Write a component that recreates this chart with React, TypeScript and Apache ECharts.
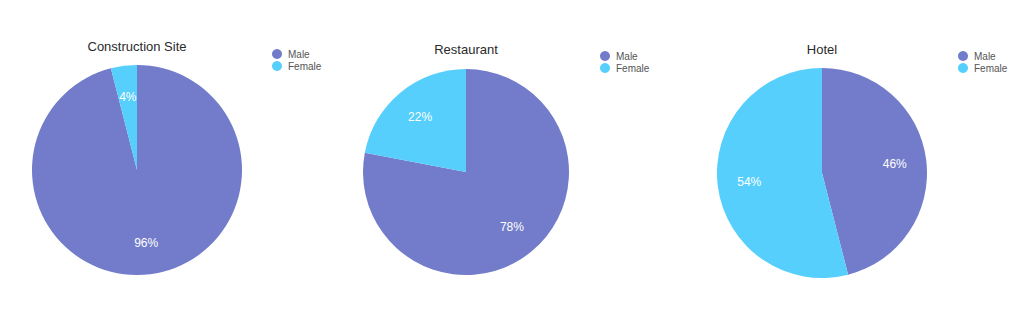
import React, { useEffect, useRef } from "react";
import * as echarts from "echarts";

// Gender split per workplace, in percent
const workplaces = ["Construction Site", "Restaurant", "Hotel"];
const genders = ["Male", "Female"];
const maleShare = [96, 78, 46];
const femaleShare = [4, 22, 54];

const MALE_COLOR = "#727CCA";
const FEMALE_COLOR = "#56CFFD";
const FONT = "'Helvetica Neue', Helvetica, Arial, 'Liberation Sans', sans-serif";

// Layout for each pie panel: centre, radius, title and legend placement
const panels = [
  { cx: 137, cy: 170, r: 105, titleTop: 40, legendLeft: 272, legendTop: 49 },
  { cx: 466, cy: 172, r: 103, titleTop: 43, legendLeft: 600, legendTop: 51 },
  { cx: 822, cy: 173, r: 105, titleTop: 43, legendLeft: 958, legendTop: 51 },
];

export default function App() {
  const ref = useRef<HTMLDivElement>(null);

  useEffect(() => {
    if (!ref.current) return;
    const chart = echarts.init(ref.current, undefined, { renderer: "svg" });

    const dataFor = (i: number) => [
      { name: genders[0], value: maleShare[i] },
      { name: genders[1], value: femaleShare[i] },
    ];

    // Visible pies (no labels)
    const pies = panels.map((p, i) => ({
      type: "pie",
      name: workplaces[i],
      center: [p.cx, p.cy],
      radius: [0, p.r],
      startAngle: 90,
      clockwise: true,
      silent: true,
      avoidLabelOverlap: false,
      label: { show: false },
      labelLine: { show: false },
      itemStyle: { borderWidth: 0 },
      color: [MALE_COLOR, FEMALE_COLOR],
      data: dataFor(i),
    }));

    // Transparent overlay pies that place the percentage labels at ~2/3 of the radius
    const labelPies = panels.map((p, i) => ({
      type: "pie",
      name: workplaces[i] + " labels",
      center: [p.cx, p.cy],
      radius: [0, p.r * 1.34],
      startAngle: 90,
      clockwise: true,
      silent: true,
      avoidLabelOverlap: false,
      minShowLabelAngle: 0,
      z: 3,
      itemStyle: { color: "rgba(0,0,0,0)", borderWidth: 0 },
      label: {
        show: true,
        position: "inside",
        formatter: "{c}%",
        color: "#ffffff",
        fontSize: 12,
        fontFamily: FONT,
      },
      labelLine: { show: false },
      data: dataFor(i),
    }));

    chart.setOption({
      animation: false,
      backgroundColor: "#ffffff",
      color: [MALE_COLOR, FEMALE_COLOR],
      title: panels.map((p, i) => ({
        text: workplaces[i],
        left: p.cx,
        top: p.titleTop,
        textAlign: "center",
        padding: 0,
        textStyle: {
          fontSize: 13,
          fontWeight: "normal",
          color: "#2a2a2a",
          fontFamily: FONT,
        },
      })),
      legend: panels.map((p) => ({
        orient: "vertical",
        left: p.legendLeft,
        top: p.legendTop,
        padding: 0,
        itemGap: 2,
        itemWidth: 12,
        itemHeight: 10,
        icon: "circle",
        selectedMode: false,
        data: genders,
        textStyle: {
          fontSize: 10,
          color: "#555555",
          fontFamily: FONT,
        },
      })),
      series: [...pies, ...labelPies],
    });

    return () => chart.dispose();
  }, []);

  return (
    <div
      ref={ref}
      style={{ position: "fixed", left: 0, top: 0, width: 1024, height: 332 }}
    />
  );
}
